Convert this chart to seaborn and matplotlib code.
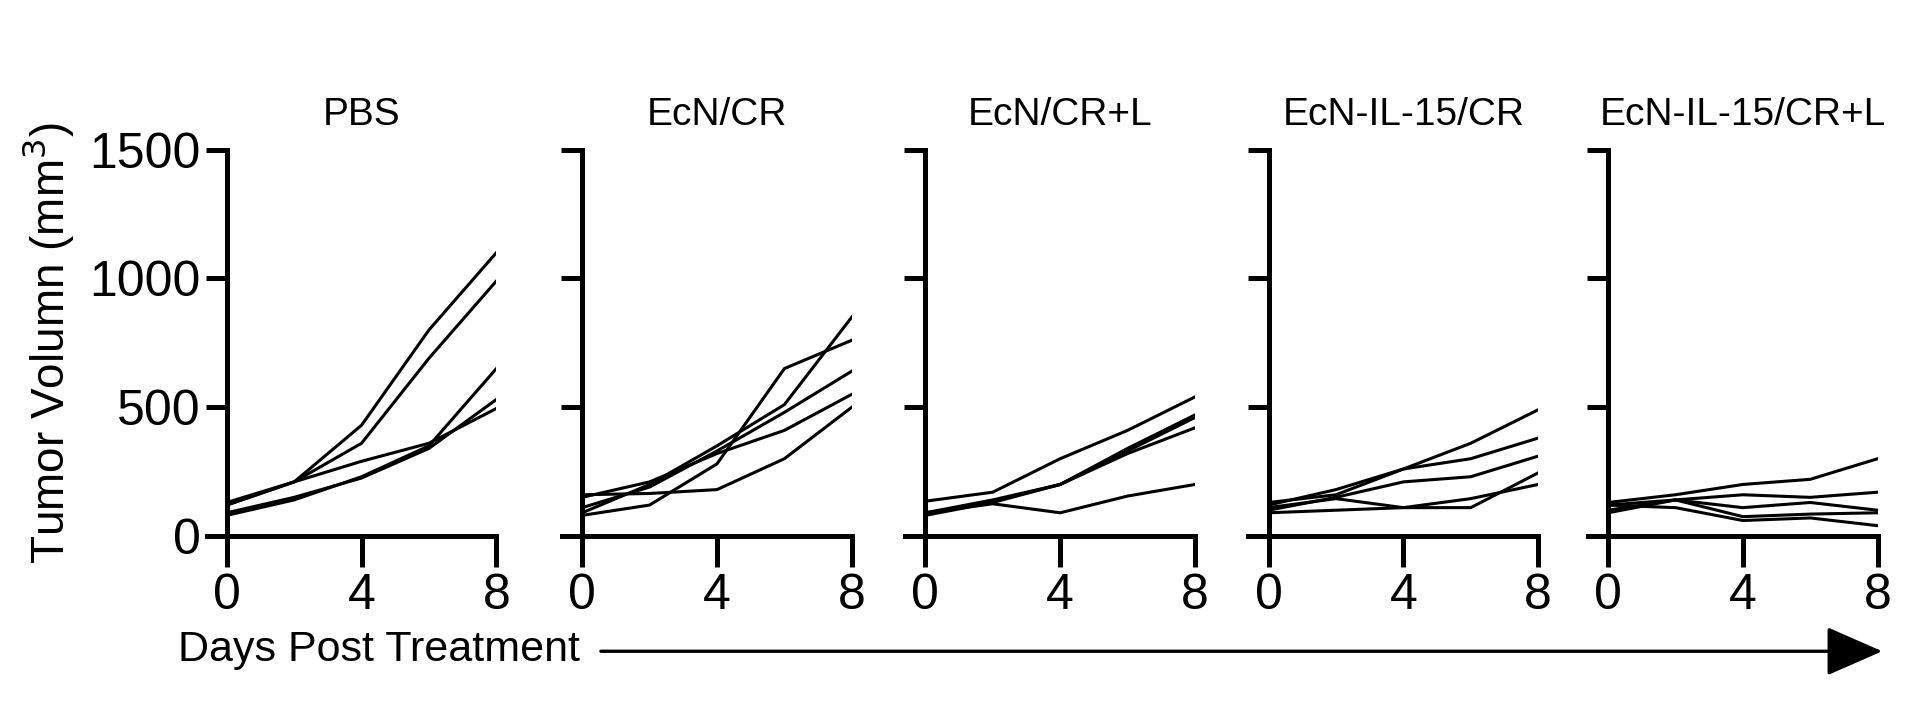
import numpy as np
import pandas as pd
import matplotlib.pyplot as plt
import seaborn as sns
from matplotlib.patches import FancyArrowPatch

# ── data ──────────────────────────────────────────────────────────────────
DAYS = [0, 2, 4, 6, 8]
GROUPS = ["PBS", "EcN/CR", "EcN/CR+L", "EcN-IL-15/CR", "EcN-IL-15/CR+L"]

PBS = [
    [120, 210, 430, 800, 1100],
    [120, 210, 360, 690, 990],
    [80, 140, 230, 350, 650],
    [90, 150, 225, 340, 530],
    [130, 210, 290, 360, 495],
]
ECN_CR = [
    [80, 120, 280, 650, 760],
    [90, 200, 350, 510, 850],
    [110, 190, 330, 480, 640],
    [150, 210, 320, 410, 550],
    [160, 165, 180, 300, 500],
]
ECN_CR_L = [
    [135, 170, 300, 410, 540],
    [90, 140, 200, 340, 470],
    [80, 130, 200, 330, 460],
    [85, 135, 200, 320, 420],
    [90, 125, 90, 155, 200],
]
IL15_CR = [
    [120, 180, 260, 360, 490],
    [130, 160, 260, 300, 380],
    [100, 150, 210, 230, 310],
    [110, 145, 110, 110, 245],
    [90, 100, 110, 145, 200],
]
IL15_CR_L = [
    [130, 160, 200, 220, 300],
    [120, 140, 160, 150, 170],
    [100, 140, 110, 130, 100],
    [120, 110, 60, 70, 40],
    [90, 140, 75, 85, 90],
]
SERIES = [PBS, ECN_CR, ECN_CR_L, IL15_CR, IL15_CR_L]

rows = []
for g, mice in zip(GROUPS, SERIES):
    for m, vals in enumerate(mice):
        for d, v in zip(DAYS, vals):
            rows.append({"group": g, "mouse": m, "day": d, "vol": v})
df = pd.DataFrame(rows)

plt.rcParams["font.family"] = "Liberation Sans"
fig = plt.figure(figsize=(19.12, 7.04), dpi=100)

# layout measured on a 1560-wide view of the reference
W, H = 1560, 574
lefts = [185, 475, 755, 1035, 1312]
for i, (g, left) in enumerate(zip(GROUPS, lefts)):
    ax = fig.add_axes([left / W, (H - 437) / H, 220 / W, 315 / H])
    sns.lineplot(data=df[df.group == g], x="day", y="vol", units="mouse",
                 estimator=None, color="black", lw=2.2, ax=ax)
    ax.set_xlim(0, 8)
    ax.set_ylim(0, 1500)
    ax.set_xticks([0, 4, 8])
    ax.set_yticks([0, 500, 1000, 1500])
    for s in ["top", "right"]:
        ax.spines[s].set_visible(False)
    for s in ["left", "bottom"]:
        ax.spines[s].set_linewidth(3.6)
    ax.spines["bottom"].set_bounds(-0.6, 8)
    ax.spines["bottom"].set_clip_on(False)
    ax.tick_params(axis="x", length=22, width=3.6, labelsize=36, pad=5)
    ax.tick_params(axis="y", length=15, width=3.6, labelsize=36)
    if i > 0:
        ax.set_yticklabels([])
        ax.set_ylabel("")
    else:
        ax.set_ylabel("Tumor Volumn (mm$^3$)", fontsize=33, labelpad=10)
    ax.set_xlabel("")
    ax.set_title(g, fontsize=28, pad=18)

fig.text(145 / W, 1 - 530 / H, "Days Post Treatment", fontsize=31,
         va="center", ha="left")
fig.add_artist(FancyArrowPatch(
    (488 / W, 1 - 531 / H), (1538 / W, 1 - 531 / H),
    transform=fig.transFigure, arrowstyle="-|>,head_length=1.6,head_width=0.7",
    mutation_scale=22, color="black", lw=2.4))

fig.savefig("out.png", dpi=100)
